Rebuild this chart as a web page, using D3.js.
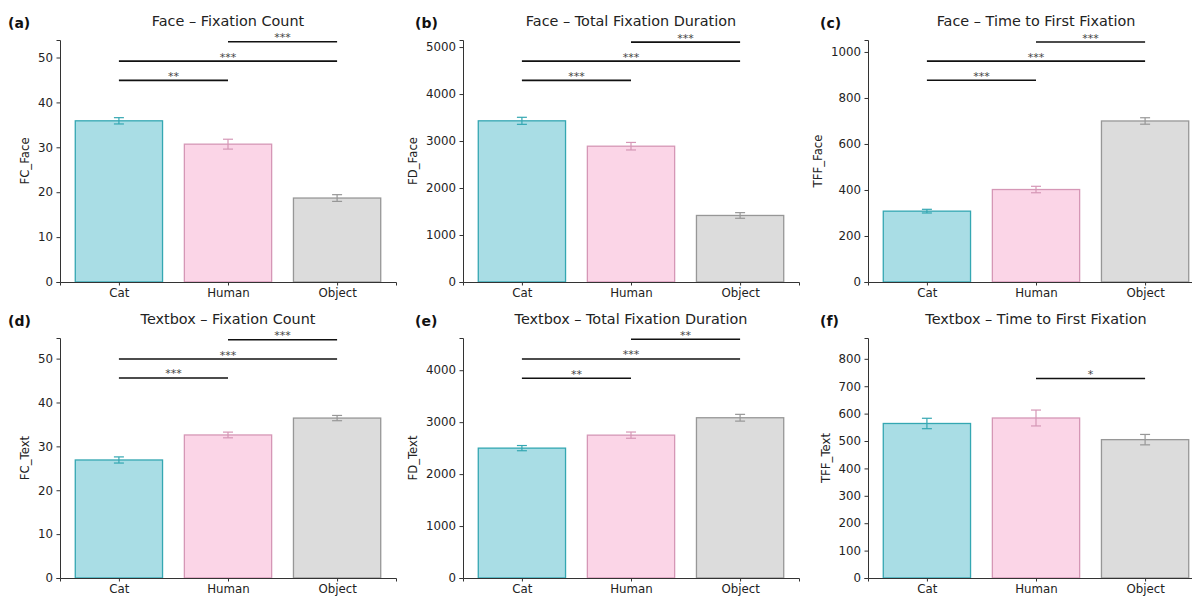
<!DOCTYPE html>
<html lang="en">
<head>
<meta charset="UTF-8">
<title>Face / Textbox fixation metrics</title>
<script src="https://d3js.org/d3.v7.min.js"></script>
<style>
  body { margin: 0; background: #fff; }
  svg { display: block; font-family: "DejaVu Sans", sans-serif; }
  .domain, .tick line { stroke: #333; stroke-width: 1; }
  .title { font-size: 14.4px; fill: #222; }
  .ylab { font-size: 11.7px; fill: #222; }
  .plabel { font-size: 14px; font-weight: bold; fill: #111; }
  .star { font-size: 11px; fill: #444; }
</style>
</head>
<body>
<svg width="1192" height="599"></svg>
<script>
// categories and colours
const groups = ["Cat", "Human", "Object"];
const fills = ["#a9dde5", "#fbd5e7", "#dcdcdc"];
const strokes = ["#34a7b2", "#d597b6", "#979797"];

// panel texts
const panelLabels = ["(a)", "(b)", "(c)", "(d)", "(e)", "(f)"];
const titles = [
  "Face – Fixation Count", "Face – Total Fixation Duration", "Face – Time to First Fixation",
  "Textbox – Fixation Count", "Textbox – Total Fixation Duration", "Textbox – Time to First Fixation"
];
const yLabels = ["FC_Face", "FD_Face", "TFF_Face", "FC_Text", "FD_Text", "TFF_Text"];

// means and standard errors (Cat, Human, Object)
const fcFace = [35.9, 30.7, 18.7];
const fcFaceErr = [0.7, 1.1, 0.75];
const fdFace = [3430, 2890, 1416];
const fdFaceErr = [75, 80, 60];
const tffFace = [308, 402, 700];
const tffFaceErr = [8, 14, 14];
const fcText = [26.9, 32.6, 36.45];
const fcTextErr = [0.7, 0.65, 0.6];
const fdText = [2500, 2750, 3085];
const fdTextErr = [50, 60, 65];
const tffText = [564, 584, 505];
const tffTextErr = [19, 29, 19];

// y axis tick values
const ticksFC = [0, 10, 20, 30, 40, 50];
const ticksFDFace = [0, 1000, 2000, 3000, 4000, 5000];
const ticksTFFFace = [0, 200, 400, 600, 800, 1000];
const ticksFDText = [0, 1000, 2000, 3000, 4000];
const ticksTFFText = [0, 100, 200, 300, 400, 500, 600, 700, 800];

// y axis upper limits
const yMaxes = [53.9, 5150, 1052, 54.7, 4620, 876];

// significance brackets: [from, to, height, stars]
const sigFCFace = [[0, 1, 44.9, "**"], [0, 2, 49.2, "***"], [1, 2, 53.5, "***"]];
const sigFDFace = [[0, 1, 4290, "***"], [0, 2, 4700, "***"], [1, 2, 5105, "***"]];
const sigTFFFace = [[0, 1, 877, "***"], [0, 2, 960, "***"], [1, 2, 1043, "***"]];
const sigFCText = [[0, 1, 45.6, "***"], [0, 2, 49.9, "***"], [1, 2, 54.3, "***"]];
const sigFDText = [[0, 1, 3846, "**"], [0, 2, 4217, "***"], [1, 2, 4596, "**"]];
const sigTFFText = [[1, 2, 728, "*"]];

const panels = [
  { means: fcFace, errs: fcFaceErr, ticks: ticksFC, sig: sigFCFace },
  { means: fdFace, errs: fdFaceErr, ticks: ticksFDFace, sig: sigFDFace },
  { means: tffFace, errs: tffFaceErr, ticks: ticksTFFFace, sig: sigTFFFace },
  { means: fcText, errs: fcTextErr, ticks: ticksFC, sig: sigFCText },
  { means: fdText, errs: fdTextErr, ticks: ticksFDText, sig: sigFDText },
  { means: tffText, errs: tffTextErr, ticks: ticksTFFText, sig: sigTFFText }
];

const svg = d3.select("svg");
const colLeft = [60, 463, 868];
const rowTop = [40, 338];
const rowBottom = [282, 578];
const axW = 336;

panels.forEach((p, i) => {
  const col = i % 3, row = Math.floor(i / 3);
  const left = colLeft[col], top = rowTop[row], bottom = rowBottom[row];

  const x = d3.scaleLinear().domain([-0.54, 2.54]).range([left, left + axW]);
  const y = d3.scaleLinear().domain([0, yMaxes[i]]).range([bottom, top]);
  const bw = x(0.4) - x(0);

  const g = svg.append("g");

  // bars
  g.selectAll("rect.bar").data(p.means).join("rect")
    .attr("class", "bar")
    .attr("x", (d, j) => x(j) - bw)
    .attr("y", d => y(d))
    .attr("width", bw * 2)
    .attr("height", d => y(0) - y(d))
    .attr("fill", (d, j) => fills[j])
    .attr("stroke", (d, j) => strokes[j])
    .attr("stroke-width", 1.3);

  // error bars
  const eb = g.selectAll("g.err").data(p.means).join("g").attr("class", "err")
    .attr("stroke", (d, j) => strokes[j]).attr("stroke-width", 1.2);
  eb.append("line")
    .attr("x1", (d, j) => x(j)).attr("x2", (d, j) => x(j))
    .attr("y1", (d, j) => y(d - p.errs[j])).attr("y2", (d, j) => y(d + p.errs[j]));
  eb.append("line")
    .attr("x1", (d, j) => x(j) - 5).attr("x2", (d, j) => x(j) + 5)
    .attr("y1", (d, j) => y(d - p.errs[j])).attr("y2", (d, j) => y(d - p.errs[j]));
  eb.append("line")
    .attr("x1", (d, j) => x(j) - 5).attr("x2", (d, j) => x(j) + 5)
    .attr("y1", (d, j) => y(d + p.errs[j])).attr("y2", (d, j) => y(d + p.errs[j]));

  // axes
  const xa = g.append("g")
    .attr("transform", `translate(0,${bottom})`)
    .call(d3.axisBottom(x).tickValues([0, 1, 2]).tickFormat(j => groups[j])
      .tickSizeOuter(0).tickSize(3.5).tickPadding(3.5));
  const ya = g.append("g")
    .attr("transform", `translate(${left},0)`)
    .call(d3.axisLeft(y).tickValues(p.ticks).tickFormat(d3.format("d"))
      .tickSizeOuter(0).tickSize(3.5).tickPadding(3.5));
  [xa, ya].forEach(a => a.attr("font-family", null).attr("font-size", 11.8)
    .selectAll("text").attr("fill", "#222"));

  // significance brackets
  p.sig.forEach(s => {
    g.append("line")
      .attr("x1", x(s[0])).attr("x2", x(s[1]))
      .attr("y1", y(s[2])).attr("y2", y(s[2]))
      .attr("stroke", "#111").attr("stroke-width", 1.6);
    g.append("text").attr("class", "star")
      .attr("x", (x(s[0]) + x(s[1])) / 2).attr("y", y(s[2]) - 0.5)
      .attr("text-anchor", "middle")
      .text(s[3]);
  });

  // texts
  const tickW = ya.node().getBBox().width;
  g.append("text").attr("class", "ylab")
    .attr("transform", `translate(${left - tickW - 8},${(top + bottom) / 2}) rotate(-90)`)
    .attr("text-anchor", "middle")
    .text(yLabels[i]);
  g.append("text").attr("class", "title")
    .attr("x", left + axW / 2).attr("y", top - 14)
    .attr("text-anchor", "middle")
    .text(titles[i]);
  g.append("text").attr("class", "plabel")
    .attr("x", left - (col === 0 ? 52 : 48)).attr("y", top - 12)
    .text(panelLabels[i]);
});
</script>
</body>
</html>
